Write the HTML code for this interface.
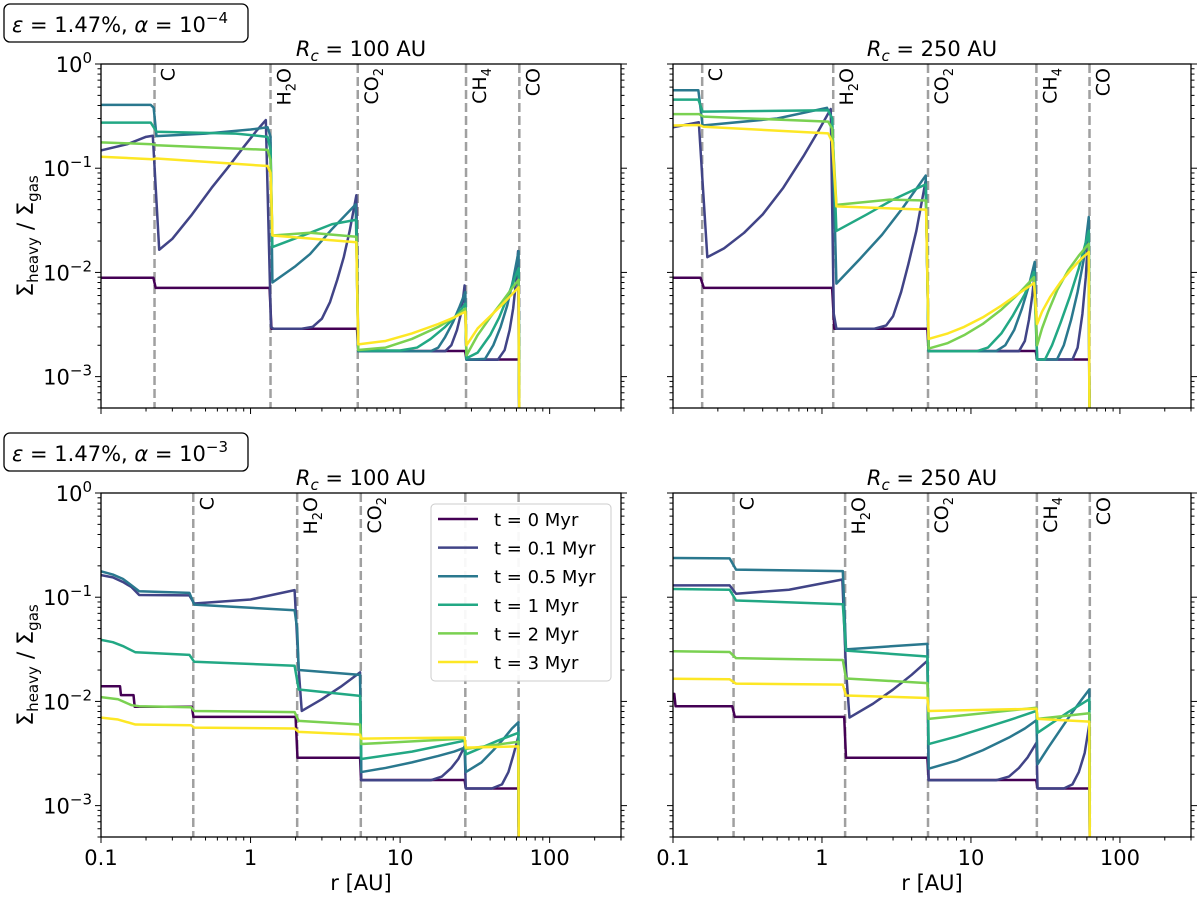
<!DOCTYPE html>
<html><head><meta charset="utf-8"><style>
body{margin:0;background:#fff}
svg{display:block}
text{font-family:"DejaVu Sans","Liberation Sans",sans-serif;fill:#000}
</style></head><body>
<svg id="fig" width="1200" height="900" xmlns="http://www.w3.org/2000/svg"></svg>
<script>
const seriesLabels = ['t = 0 Myr','t = 0.1 Myr','t = 0.5 Myr','t = 1 Myr','t = 2 Myr','t = 3 Myr'];
const xTicks = [0.1, 1, 10, 100];
const xTickLabels = ['0.1','1','10','100'];
const yTicks = [1, 0.1, 0.01, 0.001];
const yTickExp = ['0','\u22121','\u22122','\u22123'];
const iceLabels = ['C','H2O','CO2','CH4','CO'];
const iceTL = [0.228,1.36,5.21,27.6,62.7];
const iceTR = [0.157,1.19,5.15,27.5,62.5];
const iceBL = [0.414,2.05,5.46,27.3,62];
const iceBR = [0.255,1.43,5.15,27.7,62.8];

const tl_t0=[[0.1,0.0089],[0.224,0.0089],[0.232,0.0071],[1.34,0.0071],[1.38,0.00288],[5.15,0.00288],[5.25,0.00176],[27.2,0.00176],[27.8,0.00146],[62.3,0.00146],[62.7,1e-5]];
const tl_t1=[[0.1,0.148],[0.15,0.17],[0.2,0.2],[0.222,0.205],[0.245,0.0165],[0.3,0.021],[0.4,0.035],[0.55,0.065],[0.7,0.1],[0.9,0.16],[1.1,0.23],[1.265,0.29],[1.37,0.003],[1.42,0.00288],[2.2,0.00288],[2.6,0.003],[3.0,0.0036],[3.4,0.0052],[3.8,0.0085],[4.2,0.014],[4.6,0.025],[5.1,0.055],[5.25,0.00175],[20,0.00175],[22,0.002],[24,0.0028],[25.5,0.004],[26.3,0.0055],[27,0.0075],[27.8,0.00145],[45,0.00145],[50,0.0018],[54,0.0028],[57,0.0045],[59.5,0.008],[61.5,0.016],[62.7,1e-5]];
const tl_t2=[[0.1,0.405],[0.215,0.405],[0.225,0.38],[0.235,0.203],[0.5,0.215],[1.0,0.235],[1.3,0.247],[1.36,0.2],[1.4,0.008],[2.0,0.0115],[2.5,0.015],[3.5,0.026],[5.05,0.045],[5.25,0.00175],[16,0.00175],[18,0.0019],[20,0.0024],[22.5,0.0033],[25,0.0047],[27.3,0.0065],[27.8,0.00145],[37,0.00148],[42,0.002],[47,0.003],[52,0.0048],[57,0.0085],[62,0.016],[62.7,1e-5]];
const tl_t3=[[0.1,0.274],[0.215,0.274],[0.235,0.224],[0.8,0.215],[1.3,0.2],[1.36,0.15],[1.4,0.0175],[2.5,0.024],[3.5,0.029],[5.1,0.032],[5.25,0.00178],[10,0.00178],[13,0.0019],[16,0.0023],[20,0.003],[24,0.0039],[27.3,0.005],[27.8,0.0015],[33,0.0017],[40,0.0025],[46,0.0037],[53,0.0061],[62,0.011],[62.7,1e-5]];
const tl_t4=[[0.1,0.177],[0.22,0.17],[0.235,0.166],[1.3,0.15],[1.36,0.12],[1.4,0.0226],[2.5,0.024],[5.1,0.022],[5.25,0.0018],[8,0.0019],[12,0.0023],[18,0.003],[23,0.0037],[27.3,0.0045],[27.8,0.0016],[33,0.0025],[40,0.0037],[48,0.0052],[55,0.0068],[62,0.0085],[62.7,1e-5]];
const tl_t5=[[0.1,0.129],[0.22,0.122],[0.235,0.124],[1.3,0.105],[1.36,0.09],[1.4,0.0226],[5.1,0.0195],[5.25,0.00204],[8,0.0022],[12,0.0026],[18,0.0032],[23,0.0037],[27.3,0.0042],[27.8,0.002],[33,0.0029],[40,0.0038],[48,0.0049],[55,0.006],[62,0.0072],[62.7,1e-5]];

const tr_t0=[[0.1,0.0089],[0.153,0.0089],[0.161,0.0071],[1.17,0.0071],[1.21,0.00288],[5.1,0.00288],[5.2,0.00176],[27.2,0.00176],[27.8,0.00146],[62.2,0.00146],[62.5,1e-5]];
const tr_t1=[[0.1,0.247],[0.149,0.276],[0.17,0.014],[0.22,0.017],[0.3,0.024],[0.4,0.036],[0.55,0.065],[0.75,0.13],[0.95,0.23],[1.145,0.37],[1.2,0.004],[1.25,0.00288],[2.25,0.00288],[2.7,0.0031],[3.0,0.0038],[3.4,0.0065],[3.8,0.012],[4.3,0.025],[4.97,0.076],[5.2,0.00175],[21,0.00175],[23,0.0022],[24.5,0.0035],[25.8,0.006],[26.8,0.01],[27.8,0.00146],[48,0.00146],[52,0.0019],[56,0.004],[59,0.009],[61.5,0.025],[62.5,1e-5]];
const tr_t2=[[0.1,0.56],[0.148,0.56],[0.158,0.257],[0.5,0.3],[1.08,0.38],[1.17,0.3],[1.25,0.0078],[1.8,0.0135],[2.53,0.023],[3.5,0.042],[4.97,0.085],[5.2,0.00175],[14.7,0.00175],[17,0.002],[19.5,0.0028],[22,0.0045],[24.5,0.0075],[26.8,0.0126],[27.8,0.00146],[37.8,0.00146],[42,0.002],[47,0.0035],[52,0.0065],[57,0.013],[61.8,0.034],[62.5,1e-5]];
const tr_t3=[[0.1,0.455],[0.148,0.455],[0.158,0.349],[1.1,0.36],[1.17,0.3],[1.25,0.025],[2,0.036],[3,0.05],[4.97,0.07],[5.2,0.00175],[10.9,0.00175],[13,0.0019],[16,0.0026],[19,0.0038],[23,0.0062],[26.5,0.0101],[27.8,0.00146],[31.4,0.00146],[35,0.002],[40,0.0033],[46,0.0058],[53,0.011],[61.8,0.025],[62.5,1e-5]];
const tr_t4=[[0.1,0.33],[0.15,0.33],[0.16,0.313],[1.1,0.28],[1.17,0.24],[1.25,0.0445],[2.85,0.05],[5.0,0.049],[5.2,0.00186],[7,0.0021],[9,0.0025],[12,0.0032],[16,0.0044],[21,0.0063],[26.5,0.009],[27.8,0.002],[30,0.0029],[33,0.0042],[38,0.0068],[45,0.0105],[53,0.0145],[61.8,0.0188],[62.5,1e-5]];
const tr_t5=[[0.1,0.257],[0.15,0.26],[0.16,0.25],[1.1,0.216],[1.17,0.18],[1.25,0.043],[5.0,0.04],[5.2,0.0023],[7,0.0026],[9,0.003],[12,0.0037],[16,0.0048],[21,0.0063],[26.5,0.0079],[27.8,0.0032],[30,0.0042],[34,0.0058],[40,0.0081],[48,0.011],[55,0.0135],[61.8,0.0157],[62.5,1e-5]];

const bl_t0=[[0.1,0.014],[0.134,0.014],[0.136,0.0115],[0.165,0.0115],[0.168,0.0089],[0.405,0.0089],[0.415,0.0071],[2.0,0.0071],[2.06,0.00288],[5.4,0.00288],[5.48,0.00176],[27,0.00176],[27.5,0.00146],[61.8,0.00146],[62.2,1e-5]];
const bl_t1=[[0.1,0.163],[0.12,0.155],[0.14,0.14],[0.16,0.125],[0.18,0.105],[0.39,0.104],[0.42,0.087],[1.0,0.095],[1.97,0.117],[2.1,0.02],[2.2,0.0081],[3,0.0105],[4,0.0138],[5.4,0.019],[5.5,0.00175],[16,0.00175],[19,0.0019],[22,0.0023],[24.5,0.0028],[27,0.0037],[27.5,0.00146],[41,0.00146],[48,0.0016],[53,0.0021],[57,0.003],[61.5,0.0045],[62.2,1e-5]];
const bl_t2=[[0.1,0.177],[0.12,0.165],[0.14,0.15],[0.16,0.13],[0.18,0.114],[0.39,0.11],[0.42,0.085],[1.97,0.075],[2.05,0.05],[2.1,0.02],[5.4,0.018],[5.5,0.0021],[8,0.0023],[12,0.0026],[18,0.003],[23,0.0033],[27,0.0036],[27.5,0.0021],[35,0.0026],[42,0.0034],[50,0.0045],[56,0.0055],[61.8,0.0063],[62.2,1e-5]];
const bl_t3=[[0.1,0.039],[0.12,0.037],[0.14,0.034],[0.17,0.0296],[0.39,0.028],[0.42,0.024],[1.97,0.022],[2.1,0.013],[5.4,0.0113],[5.5,0.0028],[12,0.0033],[27,0.0042],[27.5,0.0031],[45,0.0042],[61.8,0.005],[62.2,1e-5]];
const bl_t4=[[0.1,0.011],[0.13,0.0105],[0.16,0.0092],[0.18,0.009],[0.4,0.0088],[0.42,0.0081],[1.97,0.0079],[2.1,0.0065],[5.4,0.006],[5.5,0.0039],[27,0.0044],[27.5,0.0035],[61.8,0.0041],[62.2,1e-5]];
const bl_t5=[[0.1,0.007],[0.13,0.0067],[0.17,0.006],[0.4,0.0059],[0.42,0.0056],[1.97,0.0055],[2.1,0.0051],[5.4,0.0048],[5.5,0.0044],[27,0.0045],[27.5,0.0036],[61.8,0.0037],[62.2,1e-5]];

const br_t0=[[0.1,0.0118],[0.102,0.0118],[0.104,0.009],[0.25,0.009],[0.26,0.0071],[1.41,0.0071],[1.45,0.00288],[5.1,0.00288],[5.2,0.00176],[27.4,0.00176],[28,0.00146],[62.5,0.00146],[62.8,1e-5]];
const br_t1=[[0.1,0.13],[0.24,0.13],[0.265,0.108],[0.6,0.118],[1.37,0.148],[1.45,0.02],[1.53,0.007],[2.2,0.0095],[3.0,0.013],[4.0,0.018],[5.1,0.0245],[5.2,0.00175],[14.7,0.00175],[18,0.0019],[21,0.0023],[24,0.0029],[27.5,0.004],[28,0.00146],[42,0.00146],[48,0.0016],[53,0.0021],[58,0.0032],[62.3,0.006],[62.8,1e-5]];
const br_t2=[[0.1,0.238],[0.24,0.236],[0.265,0.184],[1.38,0.178],[1.45,0.0316],[5.1,0.0357],[5.2,0.00226],[8,0.0027],[12,0.0034],[18,0.0045],[23,0.0055],[27.5,0.0066],[28,0.0025],[33,0.0036],[40,0.0054],[48,0.0079],[55,0.0103],[62.3,0.013],[62.8,1e-5]];
const br_t3=[[0.1,0.12],[0.24,0.118],[0.265,0.093],[1.38,0.0857],[1.45,0.0307],[5.1,0.027],[5.2,0.0039],[8,0.0046],[12,0.0055],[18,0.0066],[27.5,0.0081],[28,0.005],[35,0.0062],[45,0.0079],[62.3,0.0105],[62.8,1e-5]];
const br_t4=[[0.1,0.0303],[0.24,0.0298],[0.265,0.026],[1.38,0.025],[1.45,0.0166],[5.1,0.015],[5.2,0.0068],[27.5,0.0087],[28,0.0068],[62.3,0.0077],[62.8,1e-5]];
const br_t5=[[0.1,0.0165],[0.24,0.0163],[0.265,0.0148],[1.38,0.0145],[1.45,0.0114],[5.1,0.0108],[5.2,0.0081],[27.5,0.0085],[28,0.0068],[62.3,0.0064],[62.8,1e-5]];

const colors=['#440154','#414487','#2a788e','#22a884','#7ad151','#fde725'];
const NS='http://www.w3.org/2000/svg';
const svg=document.getElementById('fig');
function mk(tag,attrs,parent){const e=document.createElementNS(NS,tag);for(const k in attrs)e.setAttribute(k,attrs[k]);(parent||svg).appendChild(e);return e;}

const XMIN=0.1,XMAX=300,YMIN=5e-4,YMAX=1;
const panels=[
 {id:'tl',x0:101,x1:621,y0:64,y1:408,ice:iceTL,series:[tl_t0,tl_t1,tl_t2,tl_t3,tl_t4,tl_t5],rc:'100',ylab:true,xlab:false,box:'\u22124',legend:false,hideLab:[]},
 {id:'tr',x0:673,x1:1191,y0:64,y1:408,ice:iceTR,series:[tr_t0,tr_t1,tr_t2,tr_t3,tr_t4,tr_t5],rc:'250',ylab:false,xlab:false,box:null,legend:false,hideLab:[]},
 {id:'bl',x0:101,x1:621,y0:493,y1:837,ice:iceBL,series:[bl_t0,bl_t1,bl_t2,bl_t3,bl_t4,bl_t5],rc:'100',ylab:true,xlab:true,box:'\u22123',legend:true,hideLab:[3,4]},
 {id:'br',x0:673,x1:1191,y0:493,y1:837,ice:iceBR,series:[br_t0,br_t1,br_t2,br_t3,br_t4,br_t5],rc:'250',ylab:false,xlab:true,box:null,legend:false,hideLab:[]}
];

panels.forEach(p=>{
 const X=r=>p.x0+(Math.log10(r)-Math.log10(XMIN))/(Math.log10(XMAX)-Math.log10(XMIN))*(p.x1-p.x0);
 const Y=v=>p.y0+(Math.log10(YMAX)-Math.log10(v))/(Math.log10(YMAX)-Math.log10(YMIN))*(p.y1-p.y0);
 const g=mk('g',{});
 
 
 const clipId='clip-'+p.id;
 const cp=mk('clipPath',{id:clipId},g);
 mk('rect',{x:p.x0,y:p.y0,width:p.x1-p.x0,height:p.y1-p.y0},cp);
 p.ice.forEach((r,i)=>{
  const l=mk('line',{x1:X(r),x2:X(r),y1:p.y0,y2:p.y1,stroke:'#a0a0a0','stroke-width':2.5,'stroke-dasharray':'9,4'},g);
  
  
  if(p.hideLab.indexOf(i)>=0) return;
  const t=mk('text',{transform:`translate(${X(r)+20},${p.y0+4}) rotate(-90)`,'text-anchor':'end','font-size':19},g);
  
  
  const lab=iceLabels[i];
  if(lab.length>2 && /\d/.test(lab)){
   const m=lab.match(/^([A-Z]+)(\d)(.*)$/);
   t.appendChild(document.createTextNode(m[1]));
   const s=mk('tspan',{'font-size':13,dy:5},t); s.textContent=m[2];
   const s2=mk('tspan',{dy:-5},t); s2.textContent=m[3];
  } else t.textContent=lab;
 });
 const sg=mk('g',{'clip-path':`url(#${clipId})`},g);
 p.series.forEach((pts,i)=>{
  const d=pts.map((q,j)=>(j?'L':'M')+X(q[0]).toFixed(2)+','+Math.min(Y(q[1]),p.y1+20).toFixed(2)).join('');
  const path=mk('path',{d:d,fill:'none',stroke:colors[i],'stroke-width':2.5,'stroke-linejoin':'round'},sg);
  
  
 });
 const fr=mk('rect',{x:p.x0,y:p.y0,width:p.x1-p.x0,height:p.y1-p.y0,fill:'none',stroke:'#000','stroke-width':1.3},g);
 
 
 for(let e=-1;e<=2;e++){for(let k=1;k<=9;k++){const r=k*Math.pow(10,e);if(r>XMAX)break;
  mk('line',{x1:X(r),x2:X(r),y1:p.y1,y2:p.y1+(k==1?6:3.5),stroke:'#000','stroke-width':1},g);}}
 if(p.xlab){
  xTicks.forEach((r,i)=>{const t=mk('text',{x:X(r),y:p.y1+28,'text-anchor':'middle','font-size':21},g);t.textContent=xTickLabels[i];
   });
  const xl=mk('text',{x:(p.x0+p.x1)/2,y:p.y1+53,'text-anchor':'middle','font-size':21},g);xl.textContent='r [AU]';
  
 }
 for(let e=-4;e<=0;e++){for(let k=1;k<=9;k++){const v=k*Math.pow(10,e);if(v<YMIN||v>YMAX)continue;
  const L=k==1?6:3.5;
  mk('line',{x1:p.x0,x2:p.x0-L,y1:Y(v),y2:Y(v),stroke:'#000','stroke-width':1},g);
  mk('line',{x1:p.x1,x2:p.x1+L,y1:Y(v),y2:Y(v),stroke:'#000','stroke-width':1},g);}}
 if(p.ylab){
  yTicks.forEach((v,i)=>{const t=mk('text',{x:p.x0-9,y:Y(v)+8,'text-anchor':'end','font-size':21},g);
   
   t.appendChild(document.createTextNode('10'));const s=mk('tspan',{'font-size':15,dy:-9},t);s.textContent=yTickExp[i];});
  const yl=mk('text',{transform:`translate(33,${(p.y0+p.y1)/2}) rotate(-90)`,'text-anchor':'middle','font-size':22},g);
  
  yl.appendChild(document.createTextNode('\u03a3'));
  let s=mk('tspan',{'font-size':15,dy:5},yl);s.textContent='heavy';
  s=mk('tspan',{dy:-5},yl);s.textContent=' / \u03a3';
  s=mk('tspan',{'font-size':15,dy:5},yl);s.textContent='gas';
 }
 const tt=mk('text',{x:(p.x0+p.x1)/2,y:p.y0-8,'text-anchor':'middle','font-size':21},g);
 
 let s=mk('tspan',{'font-style':'italic'},tt);s.textContent='R';
 s=mk('tspan',{'font-style':'italic','font-size':15,dy:5},tt);s.textContent='c';
 s=mk('tspan',{dy:-5},tt);s.textContent=' = '+p.rc+' AU';
 if(p.box){
  const by=p.y0-60;
  const bg=mk('g',{},g);
  
  mk('rect',{x:4,y:by,width:244,height:38,rx:6,fill:'#fff',stroke:'#000','stroke-width':1.3},bg);
  const bt=mk('text',{x:12,y:by+28,'font-size':21},bg);
  let q=mk('tspan',{'font-style':'italic'},bt);q.textContent='\u03b5';
  q=mk('tspan',{},bt);q.textContent=' = 1.47%, ';
  q=mk('tspan',{'font-style':'italic'},bt);q.textContent='\u03b1';
  q=mk('tspan',{},bt);q.textContent=' = 10';
  q=mk('tspan',{'font-size':15,dy:-9},bt);q.textContent=p.box;
 }
 if(p.legend){
  const lg=mk('g',{},g);
  
  mk('rect',{x:431,y:504,width:180,height:177,rx:4,fill:'#fff','fill-opacity':0.92,stroke:'#cccccc','stroke-width':1},lg);
  seriesLabels.forEach((lab,i)=>{
   const yy=519+i*28.6;
   const e=mk('g',{},lg);
   
   mk('line',{x1:438,x2:478,y1:yy,y2:yy,stroke:colors[i],'stroke-width':2.5},e);
   const t=mk('text',{x:494,y:yy+7,'font-size':18},e);t.textContent=lab;
  });
 }
});
</script>
</body></html>
